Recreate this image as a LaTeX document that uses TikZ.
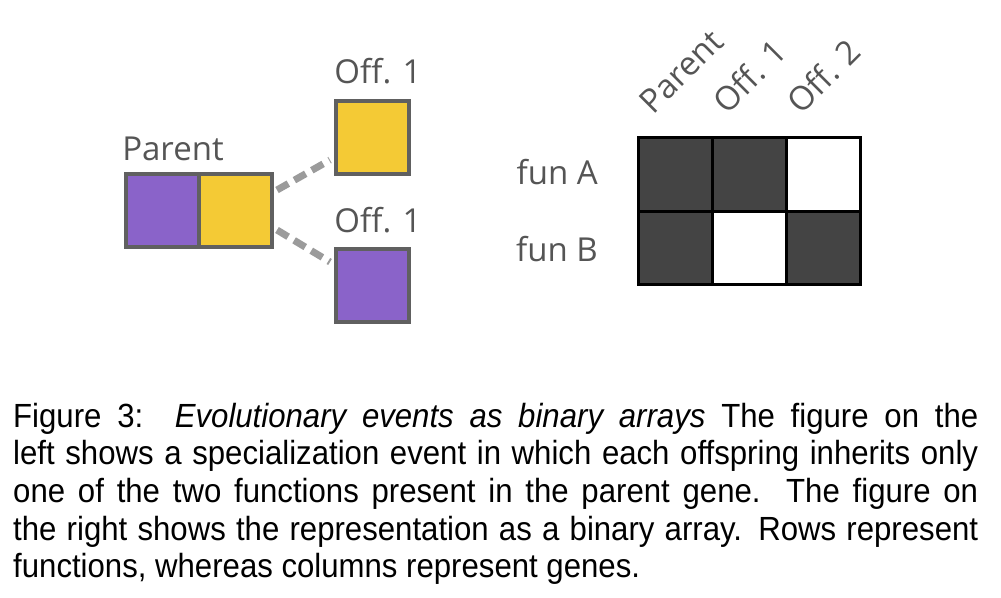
\documentclass[tikz,border=0pt]{standalone}
\usepackage{fontspec}
\usepackage{xcolor}
\usepackage{tikz}
\usetikzlibrary{positioning, calc}
\newfontfamily\labelfont{Open Sans}
\newfontfamily\captionfont[FakeStretch=0.93]{Liberation Sans}
\definecolor{genePurple}{HTML}{8A63C9}
\definecolor{geneYellow}{HTML}{F4CA35}
\definecolor{geneEdge}{HTML}{606060}
\definecolor{linkGray}{HTML}{9B9B9B}
\definecolor{cellDark}{HTML}{444444}
\definecolor{labelGray}{HTML}{555555}

\tikzset{
  gene/.style={draw=geneEdge, line width=4pt, minimum size=73pt, inner sep=0pt, outer sep=0pt},
  link/.style={draw=linkGray, line width=7pt, dash pattern=on 13pt off 7pt},
  lbl/.style={font=\labelfont\fontsize{33}{40}\selectfont, text=labelGray, inner sep=0pt},
  cell/.style={draw=black, line width=3pt, minimum width=74pt, minimum height=73.5pt, inner sep=0pt, outer sep=0pt},
}

\begin{document}
\begin{tikzpicture}[x=1pt, y=-1pt]
    \fill[white] (0,0) rectangle (1001,597);
    \useasboundingbox (0,0) rectangle (1001,597);
    % Parent gene with its two functions
    \node[gene, fill=genePurple] (parA) at (162.5,210.5) {};
    \node[gene, fill=geneYellow, right=0pt of parA] (parB) {};
    \node[lbl, anchor=base] (lblParent) at (173,160) {Parent};
    % Offspring genes
    \node[gene, fill=geneYellow] (offA) at (372.5,137) {};
    \node[gene, fill=genePurple] (offB) at (372.5,285) {};
    \node[lbl, anchor=base] (lblOffA) at (378,83) {Off. 1};
    \node[lbl, anchor=base] (lblOffB) at (378,232.5) {Off. 1};
    % Dashed links parent -> offspring
    \draw[link] ([shift={(5,-20.5)}]parB.east) -- ([shift={(-6,23)}]offA.west);
    \draw[link] ([shift={(5,19.5)}]parB.east) -- ([shift={(-6,-23)}]offB.west);
    % Binary array
    \foreach \r/\fills in {1/{cellDark,cellDark,white}, 2/{cellDark,white,cellDark}} {
      \foreach \f [count=\c] in \fills {
        \node[cell, fill=\f] (c\r-\c) at ({601.5+74*\c},{101+73.5*\r}) {};
      }
    }
    % Row and column labels
    \node[lbl, anchor=base east] (funA) at (598,184) {fun A};
    \node[lbl, anchor=base east] (funB) at (598,261.5) {fun B};
    \foreach \c/\name in {1/Parent, 2/Off. 1, 3/Off. 2} {
      \node[lbl, rotate=45, anchor=base west] (col\c) at ([shift={(-22,-22)}]c1-\c.north) {\name};
    }
    % Caption
    \node[anchor=base west, inner sep=0pt, text width=965pt, align=justify,
      font=\captionfont\fontsize{33.5}{37.7}\selectfont] (caption) at (13,427) {%
      Figure 3:\ \ \emph{Evolutionary events as binary arrays} The figure on the\linebreak
      left shows a specialization event in which each offspring inherits only\linebreak
      one of the two functions present in the parent gene.\ \ The figure on\linebreak
      the right shows the representation as a binary array. Rows represent\linebreak
      functions, whereas columns represent genes.};
\end{tikzpicture}
\end{document}
